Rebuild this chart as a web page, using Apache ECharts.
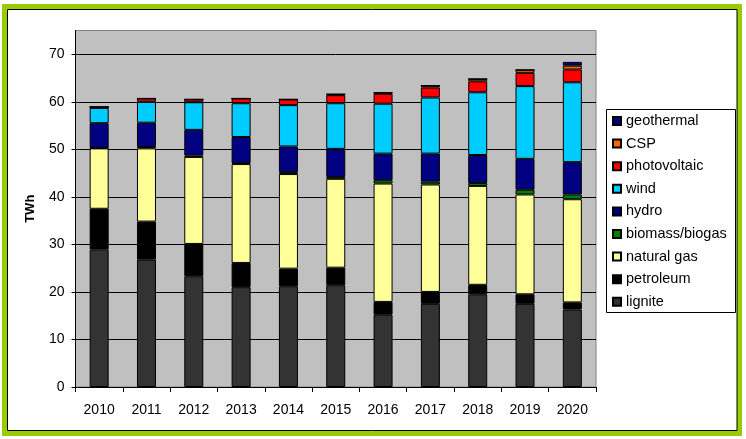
<!DOCTYPE html>
<html>
<head>
<meta charset="utf-8">
<script src="https://cdn.jsdelivr.net/npm/echarts@6/dist/echarts.min.js"></script>
<style>html,body{margin:0;padding:0;background:#fff}#c{width:746px;height:439px}</style>
</head>
<body>
<div id="c"></div>
<script>
var years = ['2010','2011','2012','2013','2014','2015','2016','2017','2018','2019','2020'];
var lignite    = [28.9, 26.8, 23.3, 21.0, 21.2, 21.4, 15.2, 17.5, 19.5, 17.5, 16.3];
var petroleum  = [8.6, 8.0, 6.8, 5.1, 3.7, 3.7, 2.7, 2.5, 2.0, 2.0, 1.5];
var naturalGas = [12.7, 15.4, 18.3, 20.8, 19.9, 18.7, 24.9, 22.6, 20.8, 21.0, 21.7];
var biomass    = [0.1, 0.3, 0.3, 0.2, 0.4, 0.4, 0.7, 0.6, 0.6, 1.0, 1.0];
var hydro      = [5.2, 5.1, 5.4, 5.5, 5.4, 5.9, 5.6, 5.9, 5.9, 6.5, 6.8];
var wind       = [3.2, 4.4, 5.8, 7.1, 8.7, 9.6, 10.5, 11.8, 13.2, 15.3, 16.8];
var photovoltaic = [0.2, 0.7, 0.6, 1.0, 1.2, 1.7, 2.1, 2.1, 2.3, 2.8, 2.7];
var csp        = [0, 0, 0, 0, 0, 0.2, 0.2, 0.4, 0.5, 0.6, 0.8];
var geothermal = [0, 0, 0, 0, 0, 0, 0, 0, 0, 0, 0.8];
var yTicks = [0, 10, 20, 30, 40, 50, 60, 70];

var seriesDefs = [
  ['lignite', lignite, '#333333'],
  ['petroleum', petroleum, '#000000'],
  ['natural gas', naturalGas, '#FFFF99'],
  ['biomass/biogas', biomass, '#008000'],
  ['hydro', hydro, '#000080'],
  ['wind', wind, '#00CCFF'],
  ['photovoltaic', photovoltaic, '#FF0000'],
  ['CSP', csp, '#FF6600'],
  ['geothermal', geothermal, '#000080']
];

var chart = echarts.init(document.getElementById('c'), null, {renderer: 'canvas'});
var font = '"Liberation Sans", Arial, sans-serif';
chart.setOption({
  animation: false,
  backgroundColor: '#fff',
  textStyle: {fontFamily: font},
  grid: {left: 75.5, right: 150, top: 30.5, bottom: 52, show: true, backgroundColor: '#C0C0C0', borderColor: '#808080', borderWidth: 1, containLabel: false},
  legend: {
    orient: 'vertical', left: 612, top: 113, padding: 0,
    itemWidth: 8, itemHeight: 8, itemGap: 6.6,
    data: seriesDefs.map(function(d){return d[0];}).reverse(),
    textStyle: {fontFamily: font, fontSize: 14.5, color: '#000', lineHeight: 16},
    icon: 'rect'
  },
  xAxis: {
    type: 'category', data: years,
    axisLine: {lineStyle: {color: '#000', width: 1}},
    axisTick: {show: true, length: 5, lineStyle: {color: '#000'}},
    axisLabel: {color: '#000', fontSize: 14, fontFamily: font, margin: 16}
  },
  yAxis: {
    type: 'value', min: 0, max: 75, interval: 10,
    name: 'TWh', nameLocation: 'middle', nameRotate: 90, nameGap: 39,
    nameTextStyle: {fontWeight: 'bold', fontSize: 13, color: '#000', fontFamily: font},
    axisLine: {show: true, lineStyle: {color: '#000', width: 1}},
    axisTick: {show: true, length: 4, lineStyle: {color: '#000'}},
    axisLabel: {color: '#000', fontSize: 14, fontFamily: font, margin: 11, showMaxLabel: false,
      formatter: function(v){ return yTicks.indexOf(v) >= 0 ? String(v) : ''; }},
    splitLine: {show: true, showMaxLine: false, lineStyle: {color: '#000', width: 1}}
  },
  graphic: [
    {type: 'rect', shape: {x: 4.5, y: 6.5, width: 735, height: 427}, style: {fill: 'none', stroke: '#99CC00', lineWidth: 5}, z: 100},
    {type: 'rect', shape: {x: 7.5, y: 9.5, width: 729.5, height: 421}, style: {fill: 'none', stroke: '#000', lineWidth: 1}, z: 100},
    {type: 'rect', shape: {x: 606.5, y: 109.5, width: 129, height: 203}, style: {fill: 'none', stroke: '#000', lineWidth: 1}, z: 100}
  ],
  series: seriesDefs.map(function(d){
    return {
      name: d[0], type: 'bar', stack: 'total', data: d[1], barWidth: 19,
      itemStyle: {color: d[2], borderColor: '#000', borderWidth: 1}
    };
  })
});
</script>
</body>
</html>
